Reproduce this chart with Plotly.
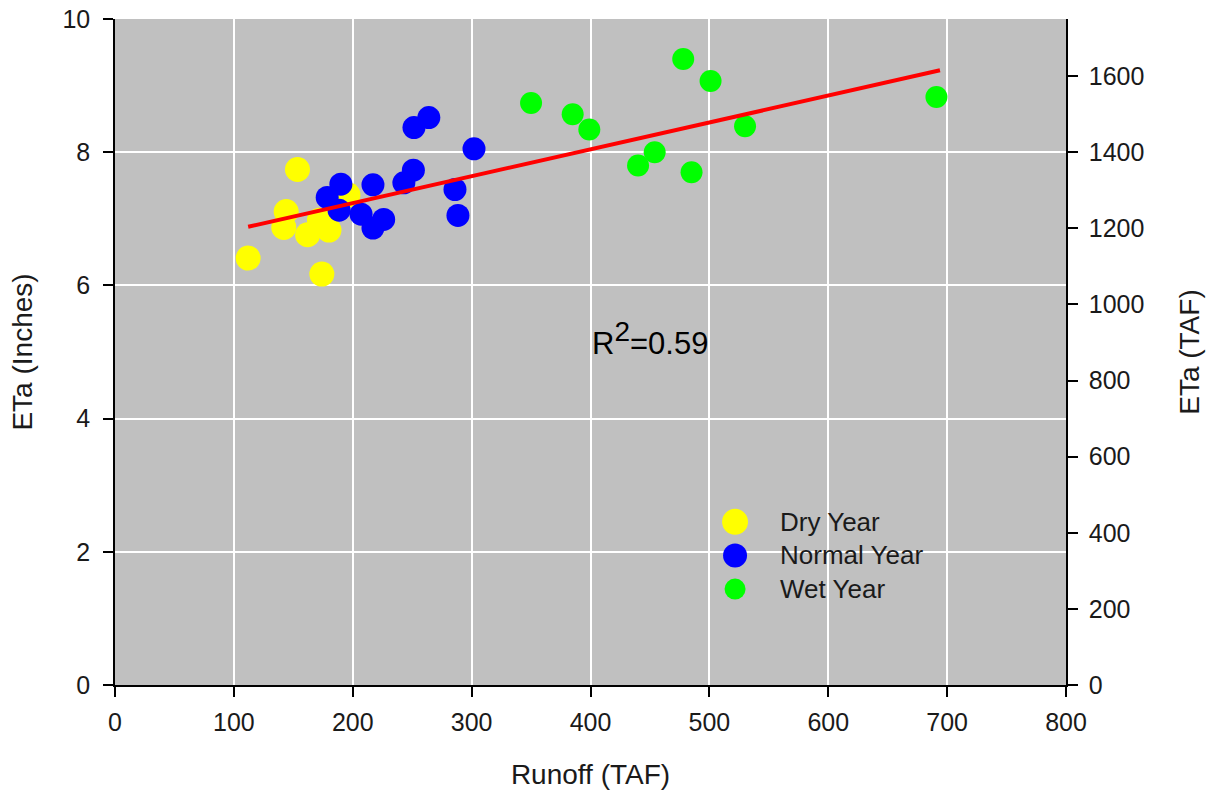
import plotly.graph_objects as go

# Runoff (TAF) and actual evapotranspiration (inches) by water-year type
dry_runoff = [112, 153.5, 174, 144, 142, 162, 180, 172, 196]
dry_eta = [6.41, 7.74, 6.17, 7.11, 6.87, 6.76, 6.83, 6.98, 7.36]

normal_runoff = [264, 251.5, 302, 251, 243, 217, 286, 288.5, 190, 178.5, 188.5, 207, 226, 217]
normal_eta = [8.52, 8.37, 8.05, 7.73, 7.54, 7.51, 7.44, 7.05, 7.52, 7.32, 7.13, 7.07, 6.99, 6.86]

wet_runoff = [350, 385, 399, 478, 501, 530, 454, 440, 485, 691]
wet_eta = [8.74, 8.57, 8.34, 9.40, 9.07, 8.39, 8.00, 7.80, 7.70, 8.83]

# Linear fit endpoints
fit_runoff = [112, 694]
fit_eta = [6.88, 9.23]
r_squared = 0.59

series_names = ["Dry Year", "Normal Year", "Wet Year"]
series_colors = ["#FFFF00", "#0000FF", "#00FF00"]
series_sizes = [25, 23, 22]
series_x = [dry_runoff, normal_runoff, wet_runoff]
series_y = [dry_eta, normal_eta, wet_eta]

FONT = "Liberation Sans, Arial, sans-serif"
TXT = "#1a1a1a"

fig = go.Figure()
for name, color, size, xs, ys in zip(series_names, series_colors, series_sizes, series_x, series_y):
    fig.add_trace(go.Scatter(
        x=xs, y=ys, mode="markers", name=name,
        marker=dict(color=color, size=size, line=dict(width=0)),
        showlegend=False,
    ))

fig.add_trace(go.Scatter(
    x=fit_runoff, y=fit_eta, mode="lines",
    line=dict(color="#FF0000", width=4), showlegend=False,
))

# invisible trace so the TAF axis is drawn
fig.add_trace(go.Scatter(x=[None], y=[None], yaxis="y2", showlegend=False))

# hand-built legend: circles + labels
leg_x = 0.652
leg_y0 = 0.245
leg_step = 0.0505
for i, (name, color, size) in enumerate(zip(series_names, series_colors, [26, 24, 21])):
    yy = leg_y0 - i * leg_step
    fig.add_shape(type="circle", xref="paper", yref="paper",
                  xsizemode="pixel", ysizemode="pixel",
                  xanchor=leg_x, yanchor=yy,
                  x0=-size / 2, x1=size / 2, y0=-size / 2, y1=size / 2,
                  fillcolor=color, line=dict(width=0))
    fig.add_annotation(x=leg_x, y=yy, xref="paper", yref="paper",
                       xshift=43, text=name, showarrow=False,
                       xanchor="left", yanchor="middle",
                       font=dict(family=FONT, size=26, color=TXT))

fig.add_annotation(x=400, y=5.2, xref="x", yref="y",
                   text="R<sup><span style='font-size:28px'>2</span></sup>=%.2f" % r_squared,
                   showarrow=False, xanchor="left", yanchor="middle", xshift=-1,
                   font=dict(family=FONT, size=31, color="#000000"))

axis_common = dict(
    showline=True, linecolor="#000000", linewidth=1.5,
    ticks="outside", ticklen=10, tickcolor="#000000", tickwidth=1.5,
    tickfont=dict(family=FONT, size=25, color=TXT),
    zeroline=False, automargin=False,
)

fig.update_layout(
    width=1214, height=797,
    margin=dict(l=115, r=148, t=19, b=112),
    paper_bgcolor="#FFFFFF", plot_bgcolor="#C0C0C0",
    xaxis=dict(range=[0, 800], dtick=100, showgrid=True, gridcolor="#FFFFFF", gridwidth=2,
               ticklabelstandoff=4,
               title=dict(text="Runoff (TAF)", font=dict(family=FONT, size=28, color=TXT), standoff=30),
               **axis_common),
    yaxis=dict(range=[0, 10], dtick=2, showgrid=True, gridcolor="#FFFFFF", gridwidth=2,
               ticklabelstandoff=8,
               title=dict(text="ETa (Inches)", font=dict(family=FONT, size=28, color=TXT), standoff=22),
               **axis_common),
    yaxis2=dict(range=[0, 1750], dtick=200, overlaying="y", side="right", showgrid=False,
                ticklabelstandoff=6,
                title=dict(text="ETa (TAF)", font=dict(family=FONT, size=28, color=TXT), standoff=36),
                **axis_common),
)

fig.write_html("out.html")
